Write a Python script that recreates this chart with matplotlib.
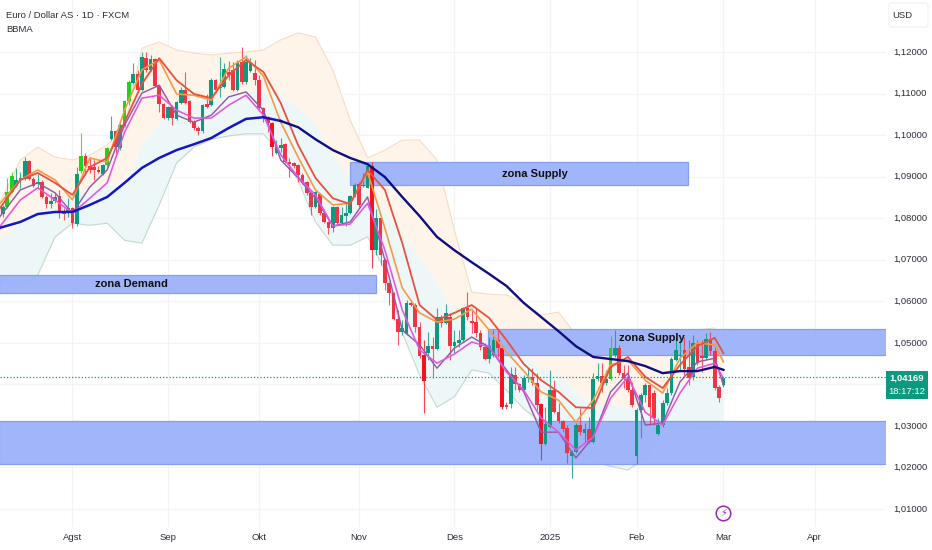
import numpy as np
import matplotlib
matplotlib.use("Agg")
import matplotlib.pyplot as plt
from matplotlib.patches import Rectangle, FancyBboxPatch

plt.rcParams['font.family'] = ['Liberation Sans', 'DejaVu Sans']

# daily candles
opens = [1.0810,1.0827,1.0863,1.0878,1.0892,1.0894,1.0938,1.0894,1.0882,1.0887,
         1.0851,1.0834,1.0841,1.0853,1.0817,1.0812,1.0824,1.0786,1.0914,1.0950,
         1.0926,1.0923,1.0916,1.0906,1.0928,1.0990,1.1009,1.0969,1.1022,1.1082,
         1.1125,1.1147,1.1108,1.1186,1.1157,1.1183,1.1118,1.1074,1.1041,1.1067,
         1.1038,1.1077,1.1108,1.1082,1.1031,1.1017,1.1009,1.1074,1.1072,1.1132,
         1.1113,1.1115,1.1151,1.1157,1.1108,1.1176,1.1128,1.1155,1.1149,1.1132,
         1.1065,1.1043,1.1029,1.0957,1.0969,1.0978,1.0935,1.0933,1.0928,1.0904,
         1.0887,1.0861,1.0827,1.0858,1.0813,1.0791,1.0777,1.0827,1.0789,1.0806,
         1.0813,1.0853,1.0882,1.0878,1.0873,1.0926,1.0724,1.0801,1.0700,1.0644,
         1.0620,1.0557,1.0526,1.0522,1.0596,1.0591,1.0538,1.0471,1.0476,1.0493,
         1.0486,1.0562,1.0548,1.0562,1.0493,1.0500,1.0507,1.0584,1.0553,1.0550,
         1.0524,1.0490,1.0461,1.0471,1.0507,1.0488,1.0350,1.0352,1.0422,1.0400,
         1.0386,1.0415,1.0417,1.0403,1.0352,1.0256,1.0297,1.0386,1.0333,1.0311,
         1.0295,1.0228,1.0237,1.0302,1.0283,1.0292,1.0261,1.0412,1.0420,1.0403,
         1.0412,1.0470,1.0487,1.0427,1.0415,1.0386,1.0228,1.0338,1.0374,1.0398,
         1.0379,1.0280,1.0302,1.0355,1.0379,1.0459,1.0469,1.0483,1.0441,1.0417,
         1.0499,1.0468,1.0464,1.0509,1.0480,1.0393,1.0398]
closes = [1.0827,1.0863,1.0902,1.0892,1.0897,1.0938,1.0894,1.0878,1.0887,1.0851,
          1.0834,1.0841,1.0851,1.0815,1.0810,1.0824,1.0789,1.0906,1.0950,1.0926,
          1.0916,1.0916,1.0911,1.0928,1.0969,1.1009,1.0971,1.1024,1.1082,1.1128,
          1.1147,1.1108,1.1188,1.1157,1.1183,1.1118,1.1074,1.1041,1.1067,1.1041,
          1.1079,1.1108,1.1077,1.1031,1.1017,1.1009,1.1072,1.1067,1.1132,1.1108,
          1.1115,1.1159,1.1144,1.1108,1.1176,1.1128,1.1176,1.1174,1.1132,1.1065,
          1.1043,1.1029,1.0971,1.0971,1.0976,1.0935,1.0930,1.0926,1.0904,1.0885,
          1.0861,1.0827,1.0863,1.0813,1.0791,1.0777,1.0827,1.0789,1.0808,1.0813,
          1.0853,1.0880,1.0832,1.0880,1.0926,1.0724,1.0801,1.0712,1.0644,1.0620,
          1.0557,1.0526,1.0536,1.0596,1.0591,1.0538,1.0469,1.0408,1.0493,1.0486,
          1.0562,1.0548,1.0572,1.0493,1.0502,1.0507,1.0584,1.0562,1.0548,1.0524,
          1.0490,1.0461,1.0493,1.0507,1.0488,1.0345,1.0345,1.0424,1.0400,1.0386,
          1.0415,1.0417,1.0403,1.0350,1.0256,1.0304,1.0386,1.0333,1.0311,1.0292,
          1.0235,1.0237,1.0302,1.0285,1.0292,1.0261,1.0412,1.0420,1.0403,1.0412,
          1.0487,1.0487,1.0427,1.0415,1.0386,1.0350,1.0338,1.0374,1.0398,1.0345,
          1.0319,1.0302,1.0355,1.0379,1.0461,1.0483,1.0471,1.0437,1.0415,1.0499,
          1.0451,1.0464,1.0509,1.0480,1.0391,1.0367,1.0415]
highs = [1.0832,1.0897,1.0911,1.0921,1.0911,1.0947,1.0940,1.0899,1.0906,1.0892,
         1.0856,1.0861,1.0861,1.0868,1.0825,1.0849,1.0827,1.0923,1.1005,1.0957,
         1.0945,1.0940,1.0926,1.0930,1.0971,1.1045,1.1012,1.1028,1.1084,1.1132,
         1.1174,1.1157,1.1200,1.1200,1.1193,1.1186,1.1120,1.1077,1.1069,1.1072,
         1.1082,1.1115,1.1151,1.1084,1.1036,1.1022,1.1074,1.1098,1.1137,1.1135,
         1.1188,1.1174,1.1178,1.1176,1.1181,1.1212,1.1193,1.1186,1.1181,1.1144,
         1.1067,1.1046,1.1031,1.0988,1.0993,1.0981,1.0945,1.0935,1.0930,1.0909,
         1.0889,1.0863,1.0866,1.0861,1.0815,1.0794,1.0830,1.0830,1.0827,1.0837,
         1.0856,1.0885,1.0887,1.0909,1.0928,1.0935,1.0822,1.0803,1.0703,1.0646,
         1.0622,1.0579,1.0555,1.0603,1.0603,1.0596,1.0550,1.0507,1.0526,1.0514,
         1.0584,1.0567,1.0593,1.0572,1.0531,1.0531,1.0586,1.0622,1.0579,1.0584,
         1.0531,1.0500,1.0514,1.0531,1.0531,1.0495,1.0357,1.0441,1.0441,1.0403,
         1.0422,1.0439,1.0439,1.0427,1.0355,1.0345,1.0434,1.0410,1.0355,1.0314,
         1.0302,1.0242,1.0307,1.0343,1.0307,1.0321,1.0427,1.0451,1.0451,1.0434,
         1.0516,1.0531,1.0495,1.0446,1.0446,1.0405,1.0343,1.0379,1.0403,1.0403,
         1.0386,1.0319,1.0362,1.0391,1.0466,1.0514,1.0507,1.0514,1.0507,1.0519,
         1.0507,1.0507,1.0524,1.0526,1.0495,1.0398,1.0417]
lows = [1.0803,1.0825,1.0861,1.0875,1.0873,1.0892,1.0892,1.0875,1.0873,1.0849,
        1.0825,1.0825,1.0836,1.0800,1.0795,1.0803,1.0777,1.0782,1.0909,1.0904,
        1.0909,1.0892,1.0909,1.0904,1.0923,1.0988,1.0950,1.0964,1.1019,1.1072,
        1.1122,1.1103,1.1106,1.1152,1.1154,1.1115,1.1055,1.1038,1.1036,1.1024,
        1.1036,1.1074,1.1074,1.1029,1.1012,1.1000,1.1005,1.1065,1.1070,1.1101,
        1.1091,1.1113,1.1132,1.1106,1.1106,1.1123,1.1123,1.1152,1.1120,1.1060,
        1.1031,1.1007,1.0950,1.0955,1.0960,1.0933,1.0899,1.0921,1.0887,1.0882,
        1.0856,1.0808,1.0825,1.0808,1.0789,1.0763,1.0767,1.0786,1.0786,1.0782,
        1.0810,1.0851,1.0827,1.0875,1.0873,1.0680,1.0712,1.0688,1.0627,1.0591,
        1.0555,1.0494,1.0519,1.0519,1.0589,1.0526,1.0464,1.0331,1.0459,1.0415,
        1.0483,1.0538,1.0546,1.0459,1.0476,1.0490,1.0502,1.0555,1.0524,1.0514,
        1.0483,1.0459,1.0452,1.0466,1.0466,1.0340,1.0340,1.0343,1.0386,1.0381,
        1.0381,1.0405,1.0398,1.0338,1.0218,1.0254,1.0295,1.0331,1.0307,1.0285,
        1.0211,1.0175,1.0235,1.0278,1.0261,1.0259,1.0259,1.0408,1.0381,1.0398,
        1.0410,1.0466,1.0422,1.0391,1.0381,1.0345,1.0208,1.0271,1.0357,1.0302,
        1.0302,1.0278,1.0297,1.0350,1.0374,1.0456,1.0434,1.0422,1.0398,1.0410,
        1.0446,1.0429,1.0459,1.0470,1.0386,1.0357,1.0393]

# candles drawn in the brighter signal colours
bright_up = [1, 2, 18, 24, 28, 29, 140]
bright_down = [62, 85, 97, 115, 124]

# indicator lines, one value every 4 bars plus the last bar
line_bars = [-1] + list(range(4, 165, 4)) + [166]
ma_slow = [1.0776,1.0791,1.0810,1.0815,1.0815,1.0832,1.0851,1.0885,1.0921,1.0945,
           1.0964,1.0978,1.0993,1.1017,1.1039,1.1043,1.1034,1.1019,1.0990,1.0964,
           1.0945,1.0930,1.0899,1.0851,1.0805,1.0755,1.0723,1.0694,1.0666,1.0637,
           1.0596,1.0562,1.0528,1.0492,1.0466,1.0461,1.0456,1.0444,1.0427,1.0432,
           1.0432,1.0442,1.0435]
ma_red = [1.0820,1.0892,1.0909,1.0885,1.0856,1.0923,1.0945,1.1031,1.1123,1.1185,
          1.1132,1.1099,1.1089,1.1144,1.1181,1.1152,1.1077,1.0976,1.0897,1.0848,
          1.0834,1.0916,1.0868,1.0740,1.0591,1.0555,1.0572,1.0591,1.0560,1.0507,
          1.0449,1.0410,1.0382,1.0345,1.0343,1.0442,1.0466,1.0418,1.0391,1.0447,
          1.0492,1.0512,1.0475]
ma_orange = [1.0832,1.0892,1.0916,1.0892,1.0844,1.0945,1.0935,1.1060,1.1157,1.1181,
             1.1099,1.1096,1.1084,1.1161,1.1188,1.1142,1.1031,1.0947,1.0868,1.0832,
             1.0836,1.0911,1.0776,1.0632,1.0572,1.0550,1.0557,1.0581,1.0531,1.0478,
             1.0432,1.0382,1.0362,1.0309,1.0362,1.0447,1.0459,1.0410,1.0379,1.0463,
             1.0500,1.0495,1.0454]
ma_purple = [1.0800,1.0868,1.0885,1.0861,1.0812,1.0875,1.0916,1.1024,1.1101,1.1120,
             1.1048,1.1031,1.1048,1.1092,1.1104,1.1060,1.0940,1.0897,1.0848,1.0781,
             1.0791,1.0851,1.0699,1.0531,1.0495,1.0439,1.0487,1.0514,1.0490,1.0435,
             1.0382,1.0285,1.0285,1.0223,1.0273,1.0382,1.0427,1.0302,1.0307,1.0406,
             1.0454,1.0463,1.0398]
ma_magenta = [1.0776,1.0844,1.0873,1.0844,1.0812,1.0848,1.0885,1.1007,1.1089,1.1096,
              1.1060,1.1041,1.1041,1.1072,1.1096,1.1048,1.0952,1.0899,1.0856,1.0781,
              1.0786,1.0836,1.0723,1.0579,1.0483,1.0451,1.0473,1.0502,1.0490,1.0430,
              1.0386,1.0319,1.0285,1.0242,1.0273,1.0367,1.0418,1.0333,1.0302,1.0379,
              1.0439,1.0451,1.0415]
bb_upper = [1.0832,1.0940,1.0971,1.0947,1.0940,1.0952,1.0976,1.1017,1.1209,1.1224,
            1.1205,1.1197,1.1193,1.1197,1.1200,1.1205,1.1229,1.1246,1.1236,1.1157,
            1.1036,1.0945,1.0964,1.0988,1.0988,1.0940,1.0771,1.0622,1.0617,1.0615,
            1.0596,1.0567,1.0574,1.0519,1.0471,1.0507,1.0495,1.0471,1.0483,1.0507,
            1.0531,1.0536,1.0495]
bb_mid = [1.0747,1.0791,1.0820,1.0827,1.0861,1.0868,1.0882,1.0882,1.0976,1.1031,
          1.1070,1.1084,1.1092,1.1099,1.1104,1.1106,1.1094,1.1067,1.1024,1.0952,
          1.0892,1.0856,1.0815,1.0757,1.0704,1.0644,1.0572,1.0528,1.0524,1.0500,
          1.0468,1.0439,1.0422,1.0382,1.0343,1.0355,1.0345,1.0348,1.0386,1.0403,
          1.0413,1.0415,1.0396]
bb_lower = [1.0646,1.0632,1.0663,1.0755,1.0788,1.0783,1.0788,1.0747,1.0740,1.0832,
            1.0933,1.0971,1.0990,1.0998,1.1003,1.1003,1.0957,1.0892,1.0791,1.0735,
            1.0735,1.0755,1.0675,1.0524,1.0422,1.0345,1.0370,1.0435,1.0427,1.0386,
            1.0341,1.0309,1.0273,1.0242,1.0213,1.0203,1.0194,1.0223,1.0290,1.0297,
            1.0295,1.0295,1.0297]

# drawn zones: first bar, last bar, bottom price, top price
zone_starts = [80, -1, 111.8, -1]
zone_ends = [157.8, 85.9, 204, 204]
zone_bottoms = [1.0880, 1.0620, 1.0471, 1.0208]
zone_tops = [1.0935, 1.0663, 1.0533, 1.0312]

month_bars = [16, 38, 59, 82, 104, 126, 146, 166, 187]
month_labels = ['Agst', 'Sep', 'Okt', 'Nov', 'Des', '2025', 'Feb', 'Mar', 'Apr']
price_ticks = [1.01, 1.02, 1.03, 1.04, 1.05, 1.06, 1.07, 1.08, 1.09, 1.10, 1.11, 1.12]
last_price = 1.04169
countdown = '18:17:12'

GREEN = '#0b9a80'
RED = '#ef3544'
TEXT = '#2a2e39'

fig = plt.figure(figsize=(9.32, 5.5), dpi=100)
ax = fig.add_axes([0, 23 / 550, 886 / 932, 527 / 550])
ax.set_xlim(-0.69, 203.46)
ax.set_ylim(1.00567, 1.13252)
for s in ax.spines.values():
    s.set_visible(False)

# grid
ax.set_xticks(month_bars)
ax.set_yticks(price_ticks)
ax.grid(True, color='#f3f4f6', lw=0.9, zorder=0)
ax.set_axisbelow(True)
ax.tick_params(length=0, labelleft=False, labelbottom=False)

# bands
ax.fill_between(line_bars, bb_mid, bb_upper, color='#fef4ea', lw=0, zorder=1)
ax.fill_between(line_bars, bb_lower, bb_mid, color='#eef7f7', lw=0, zorder=1)
ax.plot(line_bars, bb_upper, color='#f7dcc3', lw=0.8, zorder=1.2)
ax.plot(line_bars, bb_lower, color='#c5d8d3', lw=0.8, zorder=1.2)

# zones
for x0, x1, y0, y1 in zip(zone_starts, zone_ends, zone_bottoms, zone_tops):
    ax.add_patch(Rectangle((x0, y0), x1 - x0, y1 - y0, facecolor='#9cb2fa', edgecolor='#7f9cf5',
                           lw=0.9, alpha=0.95, zorder=2))

# candles
bars = np.arange(len(opens))
up_colors = []
for i in bars:
    if i in bright_up:
        up_colors.append('#1ed21e')
    elif i in bright_down:
        up_colors.append('#fb0f1e')
    elif closes[i] >= opens[i]:
        up_colors.append(GREEN)
    else:
        up_colors.append(RED)
ax.vlines(bars, lows, highs, colors=up_colors, lw=0.8, alpha=0.8, zorder=3)
bottoms = np.minimum(opens, closes)
heights = np.maximum(np.abs(np.array(closes) - np.array(opens)), 0.00025)
ax.bar(bars, heights, bottom=bottoms, width=0.85, color=up_colors, lw=0, zorder=3.2)

# moving averages
ax.plot(line_bars, ma_orange, color='#f59a45', lw=1.2, zorder=4)
ax.plot(line_bars, ma_red, color='#e8503f', lw=1.3, zorder=4.1)
ax.plot(line_bars, ma_purple, color='#945aa5', lw=1.05, zorder=4.2)
ax.plot(line_bars, ma_magenta, color='#e455e0', lw=1.15, zorder=4.3)
split = 16
ax.plot(line_bars[:split + 1], ma_slow[:split + 1], color='#1515c4', lw=1.8, zorder=4.5)
ax.plot(line_bars[split:], ma_slow[split:], color='#0e0e82', lw=1.7, zorder=4.5)

# last price
ax.axhline(last_price, color=GREEN, lw=0.9, ls=(0, (1, 1.6)), zorder=4.6)

# zone names
ax.text(122.5, 1.0907, 'zona Supply', ha='center', va='center', fontsize=8, fontweight='bold',
        color='#111111', zorder=6)
ax.text(29.5, 1.0641, 'zona Demand', ha='center', va='center', fontsize=8, fontweight='bold',
        color='#111111', zorder=6)
ax.text(149.5, 1.0511, 'zona Supply', ha='center', va='center', fontsize=8, fontweight='bold',
        color='#111111', zorder=6)

# lightning mark
ax.plot([166], [1.0090], marker='o', ms=10.5, mfc='white', mec='#9c27b0', mew=1.1, zorder=6)
ax.text(166, 1.0090, '\u26a1', ha='center', va='center', fontsize=7, color='#9c27b0',
        family=['DejaVu Sans'], zorder=7)

# month labels
for b, lab in zip(month_bars, month_labels):
    ax.annotate(lab, (b, 0), xycoords=('data', 'axes fraction'), xytext=(0, -7.5),
                textcoords='offset points', ha='center', va='center', fontsize=6.8,
                color=TEXT, annotation_clip=False)

# price axis labels, the box hides the one at 1,04
trans = ax.get_yaxis_transform()
for p in price_ticks:
    if p == 1.04:
        continue
    ax.text(1 + 7 / 886, p, f'{p:.5f}'.replace('.', ','), transform=trans, fontsize=6.8,
            color=TEXT, ha='left', va='center', clip_on=False)

# current price box
tr_fig = fig.transFigure
fig.add_artist(Rectangle((886 / 932, 151 / 550), 42 / 932, 28 / 550, transform=tr_fig,
                         facecolor=GREEN, edgecolor='none'))
fig.text(907 / 932, 172 / 550, f'{last_price:.5f}'.replace('.', ','), color='white', fontsize=6.8,
         fontweight='bold', ha='center', va='center')
fig.text(907 / 932, 158 / 550, countdown, color='white', fontsize=6.8, ha='center', va='center')

# header
fig.text(6 / 932, 535 / 550, 'Euro / Dollar AS \u00b7 1D \u00b7 FXCM', color=TEXT, fontsize=6.8,
         ha='left', va='center')
fig.text(6 / 932, 520 / 550, 'BBMA', color=TEXT, fontsize=6.8, ha='left', va='center')
fig.add_artist(FancyBboxPatch((889 / 932, 523 / 550), 39 / 932, 24 / 550, transform=tr_fig,
                              boxstyle='round,pad=0,rounding_size=0.004', facecolor='white',
                              edgecolor='#eef0f3', lw=0.8))
fig.text(902 / 932, 535 / 550, 'USD', color=TEXT, fontsize=6.8, ha='center', va='center')

fig.savefig('out.png', dpi=100)
